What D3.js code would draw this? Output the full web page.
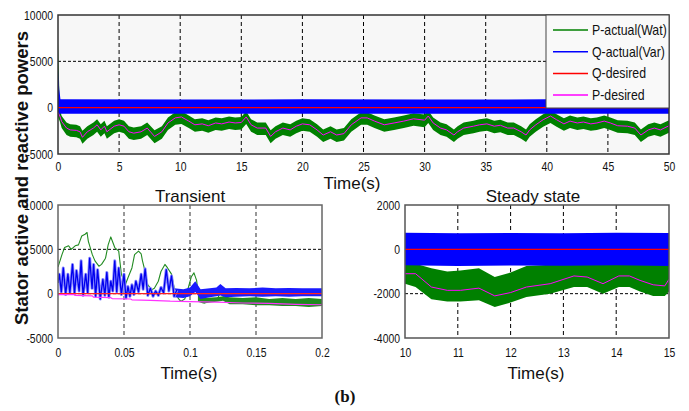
<!DOCTYPE html>
<html>
<head>
<meta charset="utf-8">
<script src="https://cdnjs.cloudflare.com/ajax/libs/d3/7.8.5/d3.min.js"></script>
<style>
  body { margin: 0; background: #fff; }
</style>
</head>
<body>
<div id="chart"></div>
<script>
// ---- top panel (0..50 s) ----
var topT    = [0, 0.15, 0.3, 0.7, 1.0, 1.5, 1.8, 2.0, 2.4, 2.9, 3.2, 3.5, 3.8, 4.0, 4.6, 5.0, 5.4, 5.8, 6.2, 6.8, 7.3, 7.9, 8.5, 9.0, 9.6,
               10.1, 10.7, 11.2, 11.8, 12.3, 12.9, 13.4, 14.0, 14.5, 15.0, 15.4, 15.8, 16.3, 17.0, 17.4, 17.8, 18.4, 19.0, 19.5,
               20.0, 20.6, 21.2, 21.7, 22.3, 22.8, 23.4, 24.0, 24.8, 25.3, 25.9, 26.7, 27.5, 28.3, 29.1, 30.0, 30.3, 30.7, 31.3,
               31.8, 32.4, 32.7, 33.2, 34.0, 34.5, 35.1, 35.7, 36.2, 36.8, 37.3, 37.9, 38.3, 38.6, 39.1, 39.7, 40.3, 40.8, 41.4,
               41.9, 42.5, 43.0, 43.6, 44.1, 44.7, 45.2, 45.8, 46.6, 47.2, 47.7, 48.3, 48.8, 49.3, 50];
var topPDes = [-500, -900, -1500, -2200, -2400, -2450, -2600, -3200, -2600, -2200, -1850, -2400, -2000, -2600, -2000, -1850, -2000, -2600, -2750, -2600, -2200, -3100, -2600, -1650, -1100,
               -1000, -1450, -1850, -1750, -1950, -1650, -1750, -1550, -1650, -1600, -1000, -1850, -2200, -2200, -3100, -2600, -2200, -2400, -2000,
               -1750, -1850, -2400, -2950, -2600, -2950, -2800, -1850, -1100, -1100, -1450, -1850, -1650, -1450, -1200, -1350, -900, -1650, -2200,
               -2400, -2950, -2600, -2200, -2000, -1850, -1750, -2000, -1900, -2200, -2200, -2600, -2950, -2400, -1850, -1300, -900, -1300, -1750,
               -1450, -1650, -1550, -1750, -1650, -1450, -1650, -1950, -2000, -2200, -2950, -2400, -2200, -2400, -1950];
var topPHi  = [7000, -200, -900, -1600, -1800, -1850, -2000, -2500, -2000, -1600, -1250, -1800, -1400, -2000, -1400, -1250, -1400, -2000, -2150, -2000, -1600, -2450, -2000, -1050, -500,
               -400, -850, -1250, -1150, -1350, -1050, -1150, -950, -1050, -1000, -400, -1250, -1600, -1600, -2450, -2000, -1600, -1800, -1400,
               -1150, -1250, -1800, -2350, -2000, -2350, -2200, -1250, -500, -500, -850, -1250, -1050, -850, -600, -750, -300, -1050, -1600,
               -1800, -2350, -2000, -1600, -1400, -1250, -1150, -1400, -1300, -1600, -1600, -2000, -2350, -1800, -1250, -700, -300, -700, -1150,
               -850, -1050, -950, -1150, -1050, -850, -1050, -1350, -1400, -1600, -2350, -1800, -1600, -1800, -1350];
var topPLo  = [-1000, -1500, -2200, -2950, -3150, -3200, -3350, -3900, -3350, -2950, -2600, -3150, -2750, -3350, -2750, -2600, -2750, -3350, -3500, -3350, -2950, -3850, -3350, -2400, -1850,
               -1750, -2200, -2600, -2500, -2700, -2400, -2500, -2300, -2400, -2350, -1750, -2600, -2950, -2950, -3850, -3350, -2950, -3150, -2750,
               -2500, -2600, -3150, -3700, -3350, -3700, -3550, -2600, -1850, -1850, -2200, -2600, -2400, -2200, -1950, -2100, -1650, -2400, -2950,
               -3150, -3700, -3350, -2950, -2750, -2600, -2500, -2750, -2650, -2950, -2950, -3350, -3700, -3150, -2600, -2050, -1650, -2050, -2500,
               -2200, -2400, -2300, -2500, -2400, -2200, -2400, -2700, -2750, -2950, -3700, -3150, -2950, -3150, -2700];
var topQT   = [0, 0.1, 0.2, 10, 20, 30, 40, 50];
var topQHi  = [4200, 2000, 900, 880, 900, 870, 900, 880];
var topQLo  = [-700, -650, -650, -650, -650, -650, -650, -650];

// ---- transient panel (0..0.2 s) ----
var trQT = [0, 0.001, 0.0025, 0.004, 0.0058, 0.0075, 0.009, 0.011, 0.0125, 0.014, 0.016, 0.0175, 0.019, 0.021, 0.0225, 0.024, 0.0258, 0.027,
            0.0285, 0.030, 0.032, 0.034, 0.0355, 0.037, 0.0385, 0.040, 0.0415, 0.043, 0.0445, 0.046, 0.048, 0.050, 0.0515, 0.053, 0.0545,
            0.056, 0.0575, 0.059, 0.061, 0.063, 0.0645, 0.066, 0.068, 0.070, 0.072, 0.074, 0.076, 0.078, 0.080, 0.082, 0.084, 0.086, 0.088, 0.090];
var trQ  = [1200, 2200, 200, 2900, -100, 2200, 100, 3300, 0, 2600, 300, 3700, -200, 2200, 100, 4000, 600, 3300,
            -300, 2700, -600, 1600, -200, 2400, -400, 1400, 300, 3700, 200, 2900, -100, 2200, -500, 800, -300,
            1000, -100, 1400, 200, 2200, 500, 2800, -200, 600, -300, 300, -200, 700, 100, 2700, 300, 2000, -300, 400];
var trPT = [0, 0.003, 0.005, 0.008, 0.010, 0.013, 0.0155, 0.018, 0.0205, 0.022, 0.023, 0.026, 0.028, 0.031, 0.033, 0.036, 0.038, 0.040,
            0.041, 0.043, 0.046, 0.048, 0.051, 0.053, 0.056, 0.058, 0.061, 0.063, 0.064, 0.066, 0.068, 0.071, 0.073, 0.076, 0.078, 0.081,
            0.083, 0.086, 0.088, 0.091, 0.093, 0.096, 0.098, 0.101, 0.103, 0.105, 0.106, 0.109, 0.111, 0.116, 0.121, 0.124, 0.126, 0.129];
var trP  = [3000, 4400, 5200, 5400, 5000, 5400, 5500, 6500, 6700, 6900, 5900, 4400, 3700, 3100, 3300, 4000, 5500, 6400,
            6000, 5200, 4800, 2200, 1000, 1800, 2900, 4400, 4800, 4500, 3700, 2500, 1000, 450, 600, 1400, 2500, 3300,
            2900, 2200, 650, -500, -870, -600, 300, 1900, 2350, 1500, 260, -870, -1060, -700, -600, 830, -490, -1000];
var trQBandT  = [0.088, 0.095, 0.1, 0.104, 0.108, 0.115, 0.12, 0.123, 0.127, 0.135, 0.145, 0.155, 0.165, 0.175, 0.185, 0.2];
var trQBandHi = [600, 500, 700, 1400, 500, 600, 700, 1100, 600, 650, 600, 700, 600, 650, 600, 600];
var trQBandLo = [-400, -500, -300, 200, -600, -400, -300, -200, -400, -350, -300, -350, -300, -350, -300, -300];
var trPBandT  = [0.106, 0.11, 0.12, 0.125, 0.13, 0.14, 0.15, 0.16, 0.17, 0.18, 0.19, 0.2];
var trPBandHi = [-200, -500, -400, -300, -400, -500, -400, -600, -500, -600, -500, -600];
var trPBandLo = [-900, -1100, -900, -800, -1200, -1200, -1300, -1300, -1400, -1400, -1500, -1400];
var trPDesT = [0, 0.012, 0.013, 0.026, 0.027, 0.040, 0.041, 0.055, 0.056, 0.07, 0.085, 0.1, 0.12, 0.14, 0.16, 0.18, 0.2];
var trPDes  = [-100, -100, -200, -250, -400, -450, -550, -600, -700, -750, -850, -900, -950, -1050, -1100, -1200, -1250];

// ---- steady state panel (10..15 s) ----
var ssT    = [10, 10.2, 10.5, 10.8, 11.05, 11.4, 11.7, 12.0, 12.3, 12.75, 13.2, 13.45, 13.75, 14.05, 14.25, 14.45, 14.7, 14.92, 15];
var ssPDes = [-1100, -1100, -1700, -1850, -1850, -1750, -2100, -1950, -1700, -1550, -1200, -1250, -1550, -1200, -1200, -1400, -1600, -1650, -1350];
var ssPHi  = [-650, -650, -850, -1000, -950, -850, -1250, -1050, -750, -700, -650, -650, -700, -650, -650, -650, -650, -700, -650];
var ssPLo  = [-1550, -1700, -2250, -2350, -2350, -2300, -2600, -2400, -2150, -2000, -1700, -1700, -2000, -1700, -1700, -1900, -2100, -2100, -1900];
var ssQT   = [10, 11, 12, 13, 14, 15];
var ssQHi  = [750, 720, 740, 730, 750, 740];
var ssQLo  = [-720, -750, -730, -740, -720, -750];

var legendNames  = ['P-actual(Wat)', 'Q-actual(Var)', 'Q-desired', 'P-desired'];
var legendColors = ['#008000', '#0000ff', '#ff0000', '#ff00ff'];

var tickFont = "'Liberation Sans',Arial,sans-serif";
var labelFont = "'Liberation Sans',Arial,sans-serif";

var svg = d3.select('#chart').append('svg')
            .attr('width', 689)
            .attr('height', 411)
            .style('background', '#fff');

function zip(t, v) { return t.map(function(d, i) { return [d, v[i]]; }); }

// MATLAB export looks horizontally squeezed, so narrow the glyphs a bit
function squeeze(sel, k) {
  sel.each(function() {
    var w = this.getComputedTextLength();
    d3.select(this).attr('textLength', w * k).attr('lengthAdjust', 'spacingAndGlyphs');
  });
}

function panel(o) {
  var x = d3.scaleLinear().domain(o.xDomain).range([o.x0, o.x1]);
  var y = d3.scaleLinear().domain(o.yDomain).range([o.y1, o.y0]);
  var g = svg.append('g');

  g.append('rect')
   .attr('x', o.x0).attr('y', o.y0)
   .attr('width', o.x1 - o.x0).attr('height', o.y1 - o.y0)
   .attr('fill', o.bg);

  svg.append('clipPath').attr('id', 'clip-' + o.id)
     .append('rect')
     .attr('x', o.x0).attr('y', o.y0)
     .attr('width', o.x1 - o.x0).attr('height', o.y1 - o.y0);

  // dashed grid
  g.selectAll('.vgrid').data(o.xTicks.slice(1, -1)).enter().append('line')
   .attr('x1', function(d) { return x(d); }).attr('x2', function(d) { return x(d); })
   .attr('y1', o.y0).attr('y2', o.y1)
   .attr('stroke', o.vGridColor).attr('stroke-width', o.vGridWidth)
   .attr('stroke-dasharray', '4,3');
  g.selectAll('.hgrid').data(o.yTicks.slice(1, -1)).enter().append('line')
   .attr('y1', function(d) { return y(d); }).attr('y2', function(d) { return y(d); })
   .attr('x1', o.x0).attr('x2', o.x1)
   .attr('stroke', '#000').attr('stroke-width', 1)
   .attr('stroke-dasharray', '3,2');

  var plot = g.append('g').attr('clip-path', 'url(#clip-' + o.id + ')');

  var ax = g.append('g')
    .attr('transform', 'translate(0,' + o.y1 + ')')
    .call(d3.axisBottom(x).tickValues(o.xTicks).tickFormat(o.xFmt).tickSize(0).tickPadding(o.xPad));
  var ay = g.append('g')
    .attr('transform', 'translate(' + o.x0 + ',0)')
    .call(d3.axisLeft(y).tickValues(o.yTicks).tickFormat(function(d) { return String(d); }).tickSize(0).tickPadding(5));
  [ax, ay].forEach(function(a) {
    a.select('.domain').remove();
    a.attr('font-family', tickFont).attr('font-size', 13);
    a.selectAll('text').attr('fill', '#111').call(squeeze, 0.8);
  });

  return { x: x, y: y, g: g, plot: plot, o: o };
}

function band(p, t, hi, lo, color) {
  var area = d3.area()
    .x(function(d) { return p.x(d[0]); })
    .y0(function(d) { return p.y(d[2]); })
    .y1(function(d) { return p.y(d[1]); });
  var rows = t.map(function(d, i) { return [d, hi[i], lo[i]]; });
  p.plot.append('path').datum(rows).attr('d', area).attr('fill', color);
}

function line(p, t, v, color, width) {
  var ln = d3.line().x(function(d) { return p.x(d[0]); }).y(function(d) { return p.y(d[1]); });
  p.plot.append('path').datum(zip(t, v)).attr('d', ln)
   .attr('fill', 'none').attr('stroke', color).attr('stroke-width', width)
   .attr('stroke-linejoin', 'round');
}

function frame(p, color, width) {
  var o = p.o;
  p.g.append('rect')
   .attr('x', o.x0).attr('y', o.y0)
   .attr('width', o.x1 - o.x0).attr('height', o.y1 - o.y0)
   .attr('fill', 'none').attr('stroke', color).attr('stroke-width', width);
}

// top panel
var pTop = panel({
  id: 'top', x0: 58, x1: 669, y0: 15, y1: 154,
  xDomain: [0, 50], yDomain: [-5000, 10000],
  xTicks: d3.range(0, 51, 5), yTicks: [-5000, 0, 5000, 10000],
  xFmt: function(d) { return String(d); }, xPad: 8,
  bg: '#f7f7f7', vGridColor: '#000', vGridWidth: 1
});
band(pTop, topT, topPHi, topPLo, '#008000');
band(pTop, topQT, topQHi, topQLo, '#0000ff');
line(pTop, [0, 50], [0, 0], '#ff0000', 1.2);
line(pTop, topT, topPDes, '#ff00ff', 1);
frame(pTop, '#333', 1.5);

// legend
var lg = svg.append('g');
lg.append('rect').attr('x', 546).attr('y', 15).attr('width', 123).attr('height', 93)
  .attr('fill', '#f9f9f9').attr('stroke', '#444').attr('stroke-width', 1);
legendNames.forEach(function(name, i) {
  var yy = 30 + i * 21.7;
  lg.append('line').attr('x1', 553).attr('x2', 588).attr('y1', yy).attr('y2', yy)
    .attr('stroke', legendColors[i]).attr('stroke-width', 1.5);
  lg.append('text').attr('x', 592).attr('y', yy + 5)
    .attr('font-family', tickFont).attr('font-size', 15).attr('fill', '#111').text(name)
    .call(squeeze, 0.82);
});

// transient panel
var pTr = panel({
  id: 'tr', x0: 58, x1: 322, y0: 205, y1: 338,
  xDomain: [0, 0.2], yDomain: [-5000, 10000],
  xTicks: [0, 0.05, 0.1, 0.15, 0.2], yTicks: [-5000, 0, 5000, 10000],
  xFmt: function(d) { return String(d); }, xPad: 10,
  bg: '#fff', vGridColor: '#777', vGridWidth: 1.5
});
band(pTr, trPBandT, trPBandHi, trPBandLo, '#1f8a1f');
line(pTr, trPT, trP, '#228b22', 1.1);
band(pTr, trQBandT, trQBandHi, trQBandLo, '#1a1aff');
line(pTr, trQT, trQ, '#8c8cff', 3);
line(pTr, trQT, trQ, '#0000ee', 1.3);
line(pTr, [0, 0.2], [0, 0], '#ff2020', 1.2);
line(pTr, trPDesT, trPDes, '#ff33ff', 1.2);
frame(pTr, '#666', 1.5);

// steady state panel
var pSs = panel({
  id: 'ss', x0: 405, x1: 669, y0: 205, y1: 338,
  xDomain: [10, 15], yDomain: [-4000, 2000],
  xTicks: [10, 11, 12, 13, 14, 15], yTicks: [-4000, -2000, 0, 2000],
  xFmt: function(d) { return String(d); }, xPad: 10,
  bg: '#fff', vGridColor: '#000', vGridWidth: 1
});
band(pSs, ssT, ssPHi, ssPLo, '#008000');
band(pSs, ssQT, ssQHi, ssQLo, '#0000ff');
line(pSs, [10, 15], [0, 0], '#ff0000', 1.2);
line(pSs, ssT, ssPDes, '#ff00ff', 1);
frame(pSs, '#555', 1.5);

// titles and labels
function label(x, y, txt, size, weight, family, anchor) {
  return svg.append('text').attr('x', x).attr('y', y)
    .attr('text-anchor', anchor || 'middle')
    .attr('font-family', family || labelFont)
    .attr('font-size', size).attr('font-weight', weight || 'normal')
    .attr('fill', '#111').text(txt);
}
label(352, 189, 'Time(s)', 17);
label(190, 202, 'Transient', 17);
label(533, 202, 'Steady state', 17);
label(189, 379, 'Time(s)', 17);
label(536, 379, 'Time(s)', 17);
label(345, 402, '(b)', 17, 'bold', "'Liberation Serif','Times New Roman',serif");
label(0, 0, 'Stator active and reactive powers', 18.5, 'bold')
  .attr('transform', 'translate(28,178) rotate(-90)');
</script>
</body>
</html>
